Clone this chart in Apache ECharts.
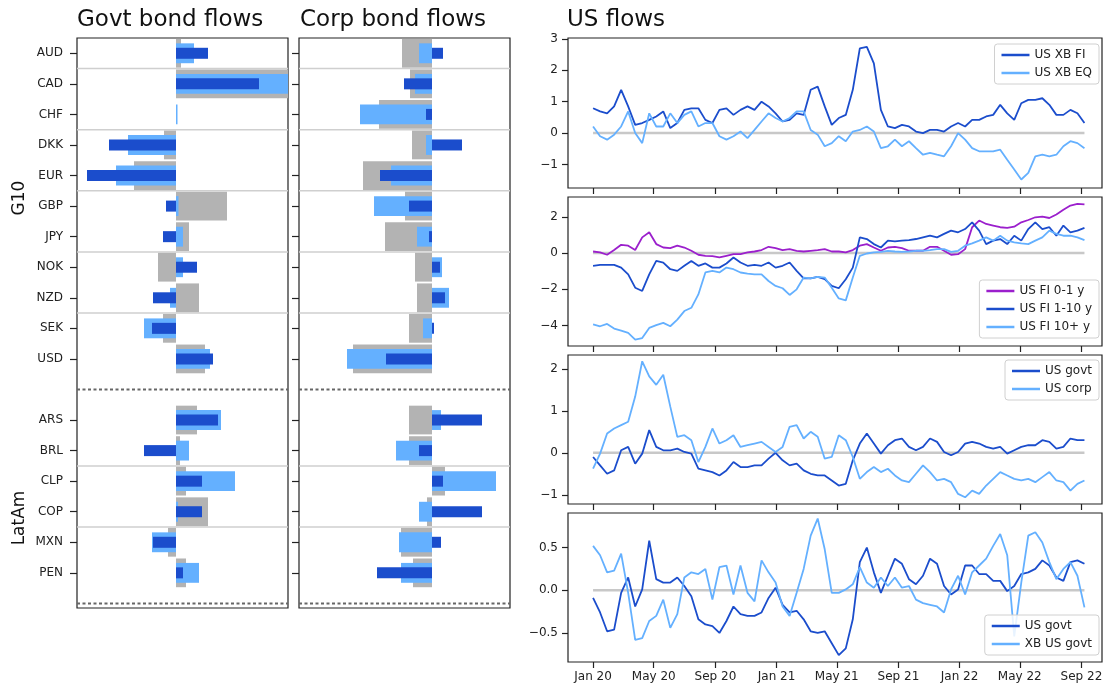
<!DOCTYPE html>
<html>
<head>
<meta charset="utf-8">
<script src="https://cdn.jsdelivr.net/npm/echarts@6/dist/echarts.min.js"></script>
<style>
  html, body { margin: 0; padding: 0; background: #fff; }
  #chart { width: 1114px; height: 687px; }
</style>
</head>
<body>
<div id="chart"></div>
<script>
// ---- Bond flow bars (one row per currency, row 11 left empty between groups) ----
const currencies = ['AUD','CAD','CHF','DKK','EUR','GBP','JPY','NOK','NZD','SEK','USD','ARS','BRL','CLP','COP','MXN','PEN'];
const rows       = [0,1,2,3,4,5,6,7,8,9,10,12,13,14,15,16,17];
const groupSeparators = [0.5, 2.5, 4.5, 6.5, 8.5, 13.5, 15.5];
const groupEnds = [11, 18];
const groupNames = ['G10', 'LatAm'];

const govtGrey  = [0.10, 2.60, 0.00, -0.24, -0.84, 1.02, 0.26, -0.36, 0.46, -0.26, 0.58, 0.42, 0.08, 0.20, 0.64, -0.16, 0.20];
const govtLight = [0.36, 2.50, 0.03, -0.96, -1.20, 0.05, 0.14, 0.14, -0.12, -0.64, 0.68, 0.90, 0.26, 1.18, 0.04, -0.48, 0.46];
const govtDark  = [0.64, 1.66, 0.00, -1.34, -1.78, -0.20, -0.26, 0.42, -0.46, -0.48, 0.74, 0.84, -0.64, 0.52, 0.52, -0.46, 0.14];

const corpGrey  = [-0.60, -0.44, -1.06, -0.40, -1.38, -0.54, -0.94, -0.34, -0.30, -0.46, -1.58, -0.46, -0.46, 0.26, -0.10, -0.62, -0.38];
const corpLight = [-0.26, -0.34, -1.44, -0.12, -0.82, -1.16, -0.30, 0.20, 0.34, -0.18, -1.70, 0.18, -0.72, 1.28, -0.26, -0.66, -0.62];
const corpDark  = [0.22, -0.56, -0.12, 0.60, -1.04, -0.46, -0.06, 0.16, 0.26, 0.04, -0.92, 1.00, -0.26, 0.22, 1.00, 0.18, -1.10];

// ---- US flows time series: one value every 14 days from 1 Jan 2020 ----
const seriesStart = '2020-01-01';
const stepDays = 14;
const tickDates  = ['2020-01-01','2020-05-01','2020-09-01','2021-01-01','2021-05-01','2021-09-01','2022-01-01','2022-05-01','2022-09-01'];
const tickLabels = ['Jan 20','May 20','Sep 20','Jan 21','May 21','Sep 21','Jan 22','May 22','Sep 22'];
const xMinDate = '2019-11-12';
const xMaxDate = '2022-10-12';

const usXbFi = [0.79,0.69,0.63,0.85,1.38,0.85,0.26,0.32,0.42,0.53,0.69,0.16,0.32,0.74,0.79,0.79,0.42,0.32,0.74,0.79,0.58,0.74,0.85,0.74,1.0,0.85,0.63,0.37,0.42,0.63,0.58,1.38,1.48,0.85,0.26,0.48,0.58,1.38,2.7,2.75,2.22,0.74,0.21,0.16,0.26,0.21,0.05,0.0,0.1,0.1,0.05,0.21,0.32,0.21,0.42,0.42,0.53,0.58,0.9,0.63,0.42,0.95,1.06,1.06,1.11,0.9,0.58,0.58,0.74,0.63,0.32];
const usXbEq = [0.21,-0.1,-0.21,-0.05,0.21,0.69,0.0,-0.32,0.63,0.21,0.21,0.63,0.32,0.58,0.69,0.21,0.32,0.32,-0.1,-0.21,-0.1,0.05,-0.16,0.1,0.37,0.63,0.48,0.37,0.48,0.69,0.69,0.1,-0.05,-0.42,-0.32,-0.1,-0.26,0.05,0.1,0.21,0.05,-0.48,-0.42,-0.21,-0.42,-0.26,-0.48,-0.69,-0.63,-0.69,-0.74,-0.42,0.0,-0.21,-0.48,-0.58,-0.58,-0.58,-0.53,-0.85,-1.16,-1.48,-1.27,-0.74,-0.69,-0.74,-0.69,-0.42,-0.26,-0.32,-0.48];

const usFi01 = [0.09,0.04,-0.09,0.17,0.46,0.41,0.17,0.87,1.15,0.5,0.31,0.28,0.41,0.31,0.13,-0.09,-0.15,-0.17,-0.24,-0.15,-0.06,-0.06,0.04,0.09,0.17,0.35,0.28,0.17,0.22,0.13,0.09,0.13,0.17,0.22,0.09,0.09,0.04,0.17,0.41,0.5,0.31,0.13,0.31,0.35,0.28,0.13,0.13,0.13,0.35,0.35,0.13,-0.09,-0.06,0.22,1.43,1.8,1.61,1.52,1.43,1.39,1.46,1.7,1.83,1.98,2.02,1.94,2.13,2.39,2.63,2.72,2.69];
const usFi110 = [-0.7,-0.65,-0.65,-0.65,-0.8,-1.17,-1.91,-2.09,-1.17,-0.43,-0.52,-0.89,-0.98,-0.7,-0.43,-0.7,-0.57,-0.8,-0.8,-0.57,-0.24,-0.52,-0.7,-0.65,-0.7,-0.52,-0.8,-0.7,-0.52,-0.98,-1.39,-1.39,-1.31,-1.44,-1.81,-1.94,-1.44,-0.8,0.87,0.78,0.5,0.31,0.69,0.65,0.69,0.72,0.78,0.87,0.96,0.87,1.06,1.24,1.15,1.33,1.7,1.24,0.5,0.69,0.78,0.5,0.96,0.69,1.33,1.7,1.33,1.43,0.96,1.52,1.15,1.24,1.39];
const usFi10p = [-3.94,-4.04,-3.91,-4.17,-4.28,-4.41,-4.78,-4.69,-4.13,-3.98,-3.85,-4.04,-3.67,-3.2,-3.02,-2.28,-1.07,-0.98,-1.07,-0.8,-0.89,-1.07,-1.13,-1.17,-1.17,-1.54,-1.81,-1.94,-2.31,-2.0,-1.35,-1.39,-1.31,-1.35,-1.91,-2.5,-2.61,-1.35,-0.15,-0.02,0.04,0.07,0.13,0.09,0.07,0.09,0.13,0.13,0.17,0.22,0.22,0.07,0.13,0.41,0.54,0.69,0.87,0.69,0.96,0.69,0.59,0.54,0.5,0.69,0.87,1.24,1.06,0.96,0.96,0.87,0.72];

const usGovt = [-0.1,-0.3,-0.5,-0.42,0.06,0.14,-0.26,-0.02,0.54,0.14,0.06,0.06,0.1,0.02,-0.02,-0.38,-0.42,-0.46,-0.54,-0.42,-0.22,-0.34,-0.34,-0.3,-0.3,-0.14,0.0,-0.18,-0.3,-0.26,-0.42,-0.5,-0.54,-0.54,-0.66,-0.78,-0.74,-0.18,0.22,0.46,0.22,-0.02,0.18,0.3,0.34,0.14,0.06,0.14,0.34,0.26,0.02,-0.06,0.02,0.22,0.26,0.22,0.14,0.1,0.14,-0.02,0.06,0.14,0.18,0.18,0.3,0.26,0.1,0.14,0.34,0.3,0.3];
const usCorp = [-0.38,-0.02,0.46,0.58,0.66,0.74,1.34,2.18,1.82,1.62,1.86,1.1,0.38,0.42,0.3,-0.22,0.14,0.58,0.22,0.3,0.42,0.14,0.18,0.22,0.26,0.14,0.02,0.14,0.62,0.66,0.34,0.5,0.38,-0.14,-0.1,0.42,0.3,-0.1,-0.62,-0.46,-0.34,-0.46,-0.38,-0.54,-0.66,-0.7,-0.5,-0.3,-0.46,-0.66,-0.62,-0.7,-0.98,-1.06,-0.9,-0.98,-0.78,-0.62,-0.46,-0.54,-0.62,-0.66,-0.62,-0.7,-0.58,-0.46,-0.66,-0.7,-0.9,-0.74,-0.66];

const usGovt2 = [-0.09,-0.26,-0.48,-0.46,-0.03,0.15,-0.19,0.01,0.58,0.13,0.09,0.09,0.15,0.05,-0.07,-0.34,-0.4,-0.42,-0.5,-0.36,-0.19,-0.28,-0.3,-0.3,-0.26,-0.09,0.03,-0.17,-0.26,-0.24,-0.34,-0.48,-0.5,-0.48,-0.62,-0.76,-0.68,-0.34,0.33,0.5,0.21,-0.03,0.17,0.37,0.31,0.13,0.07,0.17,0.37,0.31,0.05,-0.05,0.01,0.29,0.29,0.19,0.19,0.11,0.11,-0.01,0.05,0.19,0.21,0.25,0.35,0.29,0.15,0.11,0.33,0.35,0.31];
const xbUsGovt = [0.52,0.41,0.21,0.23,0.43,-0.03,-0.58,-0.56,-0.36,-0.3,-0.11,-0.44,-0.28,0.15,0.21,0.19,0.25,-0.11,0.27,0.29,-0.05,0.29,-0.03,-0.13,0.35,0.21,0.09,-0.19,-0.3,-0.03,0.25,0.64,0.84,0.48,-0.03,-0.03,0.01,0.07,0.27,0.09,0.03,0.15,0.05,0.15,0.03,0.05,-0.11,-0.15,-0.17,-0.19,-0.26,0.01,0.17,-0.05,0.21,0.29,0.37,0.52,0.66,0.41,-0.54,0.09,0.64,0.68,0.56,0.33,0.13,0.25,0.33,0.17,-0.2];

// y tick values of the four US panels
const yTicks1 = [-1, 0, 1, 2, 3];
const yTicks2 = [-4, -2, 0, 2];
const yTicks3 = [-1, 0, 1, 2];
const yTicks4 = [-0.5, 0, 0.5];

// ---- styling ----
const FONT = 'DejaVu Sans';
const DARK = '#1b4dcc';
const LIGHT = '#64b0ff';
const GREY = '#b3b3b3';
const PURPLE = '#9b1fcc';
const ZERO = '#c8c8c8';

const DAY = 86400000;
const ts = s => Date.parse(s + 'T00:00:00Z');
const t0 = ts(seriesStart);
const pairs = vals => vals.map((v, i) => [t0 + i * stepDays * DAY, v]);
const tickTimes = tickDates.map(ts);

const chart = echarts.init(document.getElementById('chart'), null, { renderer: 'canvas' });

// horizontal bar drawn on value axes, height as a share of one row
function hbar(color, frac) {
  return function (params, api) {
    const val = api.value(0), row = api.value(1);
    const a = api.coord([0, row]);
    const b = api.coord([val, row]);
    const h = api.size([0, 1])[1] * frac;
    const rect = echarts.graphic.clipRectByRect(
      { x: Math.min(a[0], b[0]), y: a[1] - h / 2, width: Math.abs(b[0] - a[0]), height: h },
      params.coordSys
    );
    if (!rect) return null;
    return { type: 'rect', shape: rect, style: { fill: color } };
  };
}
function hline(color, width, dash) {
  return function (params, api) {
    const y = api.coord([0, api.value(1)])[1];
    const cs = params.coordSys;
    return {
      type: 'line',
      shape: { x1: cs.x, y1: y, x2: cs.x + cs.width, y2: y },
      style: { stroke: color, lineWidth: width, lineDash: dash || null }
    };
  };
}

const gridBase = { show: true, borderColor: '#222', borderWidth: 1.2, backgroundColor: 'transparent', containLabel: false, outerBoundsMode: 'none' };

const grids = [
  Object.assign({ left: 77, top: 38, width: 211, height: 570 }, gridBase),
  Object.assign({ left: 299, top: 38, width: 211, height: 570 }, gridBase),
  Object.assign({ left: 568, top: 38, width: 534, height: 150 }, gridBase),
  Object.assign({ left: 568, top: 197, width: 534, height: 149 }, gridBase),
  Object.assign({ left: 568, top: 355, width: 534, height: 149 }, gridBase),
  Object.assign({ left: 568, top: 513, width: 534, height: 149 }, gridBase)
];

const barX = (idx, min, max) => ({ type: 'value', gridIndex: idx, min, max, show: false, splitLine: { show: false }, axisLine: { onZero: false } });
const barY = (idx, showLabels) => ({
  type: 'value', gridIndex: idx, inverse: true, min: -0.5, max: 18.15, position: 'left',
  axisLine: { show: false, onZero: false }, splitLine: { show: false },
  axisTick: { show: true, inside: false, length: 7, lineStyle: { color: '#222', width: 1.2 }, customValues: rows },
  axisLabel: {
    show: showLabels, customValues: rows, margin: 14,
    fontFamily: FONT, fontSize: 12, color: '#222',
    formatter: v => currencies[rows.indexOf(v)] || ''
  }
});

// dates are placed on a plain value axis (milliseconds) so the Jan/May/Sep ticks can be listed
const timeX = (idx, showLabels) => ({
  type: 'value', gridIndex: idx, min: ts(xMinDate), max: ts(xMaxDate), position: 'bottom',
  axisLine: { show: false, onZero: false }, splitLine: { show: false },
  axisTick: { show: true, length: 6, lineStyle: { color: '#222', width: 1.2 }, customValues: tickTimes },
  axisLabel: {
    show: showLabels, customValues: tickTimes, margin: 9,
    fontFamily: FONT, fontSize: 12, color: '#222', hideOverlap: false,
    formatter: v => tickLabels[tickTimes.indexOf(v)] || ''
  }
});
const valY = (idx, min, max, ticks, digits) => ({
  type: 'value', gridIndex: idx, min, max, position: 'left',
  axisLine: { show: false, onZero: false }, splitLine: { show: false },
  axisTick: { show: true, length: 6, lineStyle: { color: '#222', width: 1.2 }, customValues: ticks },
  axisLabel: {
    customValues: ticks, margin: 10, fontFamily: FONT, fontSize: 12, color: '#222',
    formatter: v => (digits ? v.toFixed(digits) : String(v)).replace('-', '\u2212')
  }
});

const toBars = vals => vals.map((v, i) => [v, rows[i]]);
const barSeries = (idx, vals, color, frac, z) => ({
  type: 'custom', xAxisIndex: idx, yAxisIndex: idx, renderItem: hbar(color, frac),
  encode: { x: 0, y: 1 }, data: toBars(vals), silent: true, z
});
const sepSeries = idx => [
  { type: 'custom', xAxisIndex: idx, yAxisIndex: idx, renderItem: hline('#cfcfcf', 1.5),
    encode: { x: 0, y: 1 }, data: groupSeparators.map(r => [0, r]), silent: true, z: 1 },
  { type: 'custom', xAxisIndex: idx, yAxisIndex: idx, renderItem: hline('#666', 2, [3, 2.5]),
    encode: { x: 0, y: 1 }, data: groupEnds.map(r => [0, r]), silent: true, z: 5 }
];

const lineSeries = (name, idx, vals, color) => ({
  name, type: 'line', xAxisIndex: idx, yAxisIndex: idx, data: pairs(vals),
  showSymbol: false, symbol: 'none', smooth: false, silent: true,
  lineStyle: { color, width: 1.8 }, itemStyle: { color }, z: 3
});
const zeroSeries = (idx, n) => ({
  type: 'line', xAxisIndex: idx, yAxisIndex: idx,
  data: [[t0, 0], [t0 + (n - 1) * stepDays * DAY, 0]],
  showSymbol: false, symbol: 'none', silent: true,
  lineStyle: { color: ZERO, width: 2.5 }, z: 2
});

const legendBase = {
  orient: 'vertical', right: 15, icon: 'rect', itemWidth: 28, itemHeight: 2.5,
  itemGap: 6, padding: [5, 7, 5, 7], selectedMode: false,
  borderColor: '#d0d0d0', borderWidth: 1, borderRadius: 3, backgroundColor: 'rgba(255,255,255,0.85)',
  textStyle: { fontFamily: FONT, fontSize: 12, color: '#222' }
};

const titleStyle = { fontFamily: FONT, fontSize: 23, fontWeight: 'normal', color: '#111' };

chart.setOption({
  animation: false,
  backgroundColor: '#fff',
  title: [
    { text: 'Govt bond flows', left: 77, top: 9, padding: 0, textStyle: titleStyle },
    { text: 'Corp bond flows', left: 300, top: 9, padding: 0, textStyle: titleStyle },
    { text: 'US flows', left: 567, top: 9, padding: 0, textStyle: titleStyle }
  ],
  legend: [
    Object.assign({ top: 44, data: ['US XB FI', 'US XB EQ'] }, legendBase),
    Object.assign({ top: 280, data: ['US FI 0-1 y', 'US FI 1-10 y', 'US FI 10+ y'] }, legendBase),
    Object.assign({ top: 360, data: ['US govt', 'US corp'] }, legendBase),
    Object.assign({ top: 615, data: ['US govt', 'XB US govt'] }, legendBase)
  ],
  grid: grids,
  xAxis: [
    barX(0, -1.98, 2.24),
    barX(1, -2.66, 1.56),
    timeX(2, false), timeX(3, false), timeX(4, false), timeX(5, true)
  ],
  yAxis: [
    barY(0, true),
    barY(1, false),
    valY(2, -1.75, 3.03, yTicks1, 0),
    valY(3, -5.13, 3.1, yTicks2, 0),
    valY(4, -1.22, 2.33, yTicks3, 0),
    valY(5, -0.84, 0.905, yTicks4, 1)
  ],
  graphic: [
    { type: 'text', x: 20, y: 198, rotation: Math.PI / 2,
      style: { text: groupNames[0], font: '17px "DejaVu Sans"', fill: '#111', align: 'center', verticalAlign: 'middle' } },
    { type: 'text', x: 20, y: 518, rotation: Math.PI / 2,
      style: { text: groupNames[1], font: '17px "DejaVu Sans"', fill: '#111', align: 'center', verticalAlign: 'middle' } }
  ],
  series: [
    ...sepSeries(0),
    barSeries(0, govtGrey, GREY, 0.94, 2),
    barSeries(0, govtLight, LIGHT, 0.65, 3),
    barSeries(0, govtDark, DARK, 0.36, 4),
    ...sepSeries(1),
    barSeries(1, corpGrey, GREY, 0.94, 2),
    barSeries(1, corpLight, LIGHT, 0.65, 3),
    barSeries(1, corpDark, DARK, 0.36, 4),

    zeroSeries(2, usXbFi.length),
    lineSeries('US XB FI', 2, usXbFi, DARK),
    lineSeries('US XB EQ', 2, usXbEq, LIGHT),

    zeroSeries(3, usFi01.length),
    lineSeries('US FI 0-1 y', 3, usFi01, PURPLE),
    lineSeries('US FI 1-10 y', 3, usFi110, DARK),
    lineSeries('US FI 10+ y', 3, usFi10p, LIGHT),

    zeroSeries(4, usGovt.length),
    lineSeries('US govt', 4, usGovt, DARK),
    lineSeries('US corp', 4, usCorp, LIGHT),

    zeroSeries(5, usGovt2.length),
    lineSeries('US govt', 5, usGovt2, DARK),
    lineSeries('XB US govt', 5, xbUsGovt, LIGHT)
  ]
});
</script>
</body>
</html>
